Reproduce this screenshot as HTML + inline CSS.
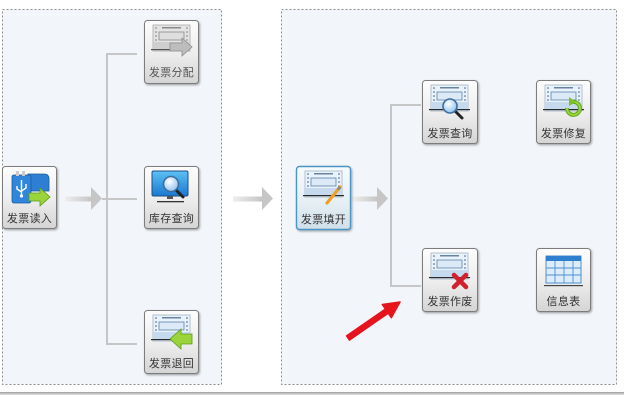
<!DOCTYPE html>
<html><head><meta charset="utf-8"><style>
html,body{margin:0;padding:0;background:#fff;width:624px;height:403px;overflow:hidden}
svg{display:block}
text{font-family:"Liberation Sans","Noto Sans CJK SC",sans-serif;font-size:11px;fill:#333;text-anchor:middle;letter-spacing:0.3px}
</style></head><body>
<svg width="624" height="403" viewBox="0 0 624 403" xmlns="http://www.w3.org/2000/svg">
<defs>
<linearGradient id="nb" x1="0" y1="0" x2="0" y2="1"><stop offset="0" stop-color="#fdfdfd"/><stop offset="0.55" stop-color="#ececec"/><stop offset="1" stop-color="#d4d4d4"/></linearGradient>
<linearGradient id="nbb" x1="0" y1="0" x2="0" y2="1"><stop offset="0" stop-color="#f6fbfe"/><stop offset="0.6" stop-color="#e4eef4"/><stop offset="1" stop-color="#cfdfe9"/></linearGradient>
<linearGradient id="sh" x1="0" y1="0" x2="1" y2="0"><stop offset="0" stop-color="#eeeeee"/><stop offset="1" stop-color="#c4c4c4"/></linearGradient>
<linearGradient id="bl" x1="0" y1="0" x2="0" y2="1"><stop offset="0" stop-color="#9a9a9a"/><stop offset="1" stop-color="#e6e6e6"/></linearGradient>
<linearGradient id="scr" x1="0" y1="0" x2="0" y2="1"><stop offset="0" stop-color="#5cc0f5"/><stop offset="1" stop-color="#1a78d0"/></linearGradient>
<radialGradient id="lens" cx="0.4" cy="0.35" r="0.7"><stop offset="0" stop-color="#ffffff"/><stop offset="1" stop-color="#8cc0ee"/></radialGradient>
<filter id="ds" x="-20%" y="-20%" width="150%" height="150%"><feDropShadow dx="1" dy="1.2" stdDeviation="1" flood-color="#000" flood-opacity="0.35"/></filter>
</defs>

<!-- panels -->
<rect x="2.5" y="9.5" width="219" height="375" fill="#f2f6fa" stroke="#8e8e8e" stroke-width="1" stroke-dasharray="2,2"/>
<rect x="281.5" y="9.5" width="335" height="375" fill="#f2f6fa" stroke="#8e8e8e" stroke-width="1" stroke-dasharray="2,2"/>
<rect x="0" y="392" width="624" height="3" fill="url(#bl)"/>

<!-- connectors left -->
<g stroke="#c6c6c6" stroke-width="2" fill="none">
<path d="M137 54 H107 V344 H137"/>
<path d="M102 199 H137"/>
<path d="M421 105 H391 V286 H421"/>
</g>
<!-- gray arrows -->
<rect x="65" y="196.5" width="27" height="5" fill="url(#sh)"/>
<polygon points="91,187 102,198.5 91,210" fill="#c6c6c6"/>
<rect x="233" y="196.5" width="30" height="5" fill="url(#sh)"/>
<polygon points="262,187 273,198.5 262,210" fill="#c6c6c6"/>
<rect x="352" y="196.5" width="26" height="5" fill="url(#sh)"/>
<polygon points="377,187 388,198.5 377,210" fill="#c6c6c6"/>

<!-- red arrow -->
<polygon points="346.6,335.9 385.4,309.0 382.3,304.5 400,302 391.4,317.7 388.2,313.2 349.4,340.1" fill="#e6141c" stroke="#e6141c" stroke-width="1.5" stroke-linejoin="round"/>

<!-- Node: 发票分配 (grey) -->
<g transform="translate(144,20)">
<rect x="0.5" y="0.5" width="54" height="63" rx="3" fill="url(#nb)" stroke="#7c7c7c" filter="url(#ds)"/>
<rect x="9" y="5" width="37" height="26" fill="#e4e4e4" stroke="#a8a8a8" stroke-width=".8"/>
<rect x="9" y="22" width="37" height="8" fill="#cfcfcf"/>
<g fill="#7a7a7a"><circle cx="12" cy="8" r=".8"/><circle cx="12" cy="12" r=".8"/><circle cx="12" cy="16" r=".8"/><circle cx="12" cy="20" r=".8"/><circle cx="43" cy="8" r=".8"/><circle cx="43" cy="12" r=".8"/><circle cx="43" cy="16" r=".8"/><circle cx="43" cy="20" r=".8"/></g>
<rect x="18" y="7" width="19" height="1.5" fill="#8a8a8a"/>
<rect x="15" y="12" width="25" height="8" fill="#dedede" stroke="#8a8a8a" stroke-width=".8"/>
<rect x="7" y="29" width="26" height="1.2" fill="#555"/>
<polygon points="26,23 38,23 38,18 48,27 38,36 38,31 26,31" fill="#bdbdbd" stroke="#8e8e8e" stroke-width=".8"/>
<text x="27.5" y="56" style="fill:#555">发票分配</text>
</g>

<!-- Node: 发票读入 -->
<g transform="translate(2,166)">
<rect x="0.5" y="0.5" width="54" height="62" rx="3" fill="url(#nb)" stroke="#7c7c7c" filter="url(#ds)"/>
<path d="M26 8 H42 Q47 8 47 13 V25 H26 Z" fill="#2e7fd4" stroke="#1a5aa0" stroke-width=".8"/>
<rect x="10" y="9" width="19" height="28" rx="2" fill="#2f86da" stroke="#1a5aa0" stroke-width=".8"/>
<rect x="14" y="5" width="3" height="5" fill="#ccc"/><rect x="20" y="5" width="3" height="5" fill="#ccc"/>
<path d="M19.5 14 V30 M15 20 V23 L19.5 26 M24 18 V22 L19.5 25" stroke="#fff" stroke-width="1.4" fill="none"/>
<circle cx="19.5" cy="30" r="1.6" fill="#fff"/>
<polygon points="27,27 38,27 38,22 48,31 38,40 38,35 27,35" fill="#9ad43a" stroke="#5a9a18" stroke-width=".8"/>
<text x="27.5" y="56">发票读入</text>
</g>

<!-- Node: 库存查询 -->
<g transform="translate(144,166)">
<rect x="0.5" y="0.5" width="54" height="62" rx="3" fill="url(#nb)" stroke="#7c7c7c" filter="url(#ds)"/>
<rect x="8" y="5" width="36" height="25" rx="1.5" fill="url(#scr)" stroke="#1b4f86" stroke-width="1"/>
<rect x="23" y="30" width="6" height="3" fill="#555"/>
<rect x="13" y="35" width="27" height="1.3" fill="#333"/>
<line x1="32" y1="24" x2="39" y2="31" stroke="#222" stroke-width="3" stroke-linecap="round"/>
<circle cx="27" cy="18" r="7.5" fill="url(#lens)" stroke="#3e6e9e" stroke-width="1.6"/>
<text x="27.5" y="56">库存查询</text>
</g>

<!-- Node: 发票退回 -->
<g transform="translate(144,310)">
<rect x="0.5" y="0.5" width="54" height="63" rx="3" fill="url(#nb)" stroke="#7c7c7c" filter="url(#ds)"/>
<rect x="9" y="5" width="37" height="26" fill="#eaf2fb" stroke="#9fb3c8" stroke-width=".8"/>
<rect x="9" y="22" width="37" height="8" fill="#c6daef"/>
<g fill="#3a5a80"><circle cx="12" cy="8" r=".8"/><circle cx="12" cy="12" r=".8"/><circle cx="12" cy="16" r=".8"/><circle cx="12" cy="20" r=".8"/><circle cx="43" cy="8" r=".8"/><circle cx="43" cy="12" r=".8"/><circle cx="43" cy="16" r=".8"/><circle cx="43" cy="20" r=".8"/></g>
<rect x="18" y="7" width="19" height="1.5" fill="#6a84a4"/>
<rect x="15" y="12" width="25" height="8" fill="#dce9f6" stroke="#5d82ab" stroke-width=".8"/>
<rect x="7" y="29" width="22" height="1.2" fill="#2a2a2a"/>
<polygon points="48,24 37,24 37,19 26,29 37,39 37,34 48,34" fill="#9ad43a" stroke="#5a9a18" stroke-width=".8"/>
<text x="27.5" y="57">发票退回</text>
</g>

<!-- Node: 发票填开 (blue) -->
<g transform="translate(296,166)">
<rect x="0.5" y="0.5" width="54" height="63" rx="3" fill="url(#nbb)" stroke="#4e95c4" stroke-width="1.4" filter="url(#ds)"/>
<rect x="9" y="5" width="37" height="26" fill="#eaf2fb" stroke="#9fb3c8" stroke-width=".8"/>
<rect x="9" y="22" width="37" height="8" fill="#c6daef"/>
<g fill="#3a5a80"><circle cx="12" cy="8" r=".8"/><circle cx="12" cy="12" r=".8"/><circle cx="12" cy="16" r=".8"/><circle cx="12" cy="20" r=".8"/><circle cx="43" cy="8" r=".8"/><circle cx="43" cy="12" r=".8"/><circle cx="43" cy="16" r=".8"/><circle cx="43" cy="20" r=".8"/></g>
<rect x="18" y="7" width="19" height="1.5" fill="#6a84a4"/>
<rect x="15" y="12" width="25" height="8" fill="#dce9f6" stroke="#5d82ab" stroke-width=".8"/>
<rect x="7" y="29" width="41" height="1.2" fill="#2a2a2a"/>
<line x1="44" y1="21" x2="31" y2="37" stroke="#f0a020" stroke-width="3.2" stroke-linecap="round"/>
<line x1="44" y1="21" x2="42" y2="23.5" stroke="#888" stroke-width="3.2"/>
<text x="27.5" y="57">发票填开</text>
</g>

<!-- Node: 发票查询 -->
<g transform="translate(422,80)">
<rect x="0.5" y="0.5" width="55" height="63" rx="3" fill="url(#nb)" stroke="#7c7c7c" filter="url(#ds)"/>
<rect x="9" y="5" width="37" height="26" fill="#eaf2fb" stroke="#9fb3c8" stroke-width=".8"/>
<rect x="9" y="22" width="37" height="8" fill="#c6daef"/>
<g fill="#3a5a80"><circle cx="12" cy="8" r=".8"/><circle cx="12" cy="12" r=".8"/><circle cx="12" cy="16" r=".8"/><circle cx="12" cy="20" r=".8"/><circle cx="43" cy="8" r=".8"/><circle cx="43" cy="12" r=".8"/><circle cx="43" cy="16" r=".8"/><circle cx="43" cy="20" r=".8"/></g>
<rect x="18" y="7" width="19" height="1.5" fill="#6a84a4"/>
<rect x="15" y="12" width="25" height="8" fill="#dce9f6" stroke="#5d82ab" stroke-width=".8"/>
<rect x="7" y="29" width="41" height="1.2" fill="#2a2a2a"/>
<line x1="33" y1="31" x2="40" y2="38" stroke="#222" stroke-width="3" stroke-linecap="round"/>
<circle cx="28" cy="26" r="7" fill="url(#lens)" stroke="#3e6e9e" stroke-width="1.6"/>
<text x="28" y="57">发票查询</text>
</g>

<!-- Node: 发票修复 -->
<g transform="translate(536,80)">
<rect x="0.5" y="0.5" width="54" height="63" rx="3" fill="url(#nb)" stroke="#7c7c7c" filter="url(#ds)"/>
<rect x="9" y="5" width="37" height="26" fill="#eaf2fb" stroke="#9fb3c8" stroke-width=".8"/>
<rect x="9" y="22" width="37" height="8" fill="#c6daef"/>
<g fill="#3a5a80"><circle cx="12" cy="8" r=".8"/><circle cx="12" cy="12" r=".8"/><circle cx="12" cy="16" r=".8"/><circle cx="12" cy="20" r=".8"/><circle cx="43" cy="8" r=".8"/><circle cx="43" cy="12" r=".8"/><circle cx="43" cy="16" r=".8"/><circle cx="43" cy="20" r=".8"/></g>
<rect x="18" y="7" width="19" height="1.5" fill="#6a84a4"/>
<rect x="15" y="12" width="25" height="8" fill="#dce9f6" stroke="#5d82ab" stroke-width=".8"/>
<rect x="7" y="29" width="41" height="1.2" fill="#2a2a2a"/>
<path d="M31 28 A6.5 6.5 0 1 0 36 22" stroke="#5fa81c" stroke-width="4" fill="none"/>
<path d="M31 28 A6.5 6.5 0 1 0 36 22" stroke="#9ad43a" stroke-width="2" fill="none"/>
<polygon points="33,17 40,22 33,26" fill="#7cc02a"/>
<text x="27.5" y="57">发票修复</text>
</g>

<!-- Node: 发票作废 -->
<g transform="translate(422,248)">
<rect x="0.5" y="0.5" width="55" height="63" rx="3" fill="url(#nb)" stroke="#7c7c7c" filter="url(#ds)"/>
<rect x="9" y="5" width="37" height="26" fill="#eaf2fb" stroke="#9fb3c8" stroke-width=".8"/>
<rect x="9" y="22" width="37" height="8" fill="#c6daef"/>
<g fill="#3a5a80"><circle cx="12" cy="8" r=".8"/><circle cx="12" cy="12" r=".8"/><circle cx="12" cy="16" r=".8"/><circle cx="12" cy="20" r=".8"/><circle cx="43" cy="8" r=".8"/><circle cx="43" cy="12" r=".8"/><circle cx="43" cy="16" r=".8"/><circle cx="43" cy="20" r=".8"/></g>
<rect x="18" y="7" width="19" height="1.5" fill="#6a84a4"/>
<rect x="15" y="12" width="25" height="8" fill="#dce9f6" stroke="#5d82ab" stroke-width=".8"/>
<rect x="7" y="29" width="41" height="1.2" fill="#2a2a2a"/>
<g stroke="#d2202e" stroke-width="4.5" stroke-linecap="round"><line x1="32" y1="27" x2="44" y2="39"/><line x1="44" y1="27" x2="32" y2="39"/></g>
<text x="28" y="57">发票作废</text>
</g>

<!-- Node: 信息表 -->
<g transform="translate(536,248)">
<rect x="0.5" y="0.5" width="54" height="63" rx="3" fill="url(#nb)" stroke="#7c7c7c" filter="url(#ds)"/>
<rect x="10" y="8" width="35" height="27" fill="#dcecfb" stroke="#4d8fd0" stroke-width="1"/>
<rect x="10" y="8" width="35" height="5" fill="#2f7fd0"/>
<g stroke="#4d8fd0" stroke-width=".9"><line x1="10" y1="20" x2="45" y2="20"/><line x1="10" y1="27" x2="45" y2="27"/><line x1="19" y1="13" x2="19" y2="35"/><line x1="28" y1="13" x2="28" y2="35"/><line x1="37" y1="13" x2="37" y2="35"/></g>
<rect x="8" y="37" width="39" height="1.2" fill="#444"/>
<text x="27.5" y="57">信息表</text>
</g>
</svg>
</body></html>
